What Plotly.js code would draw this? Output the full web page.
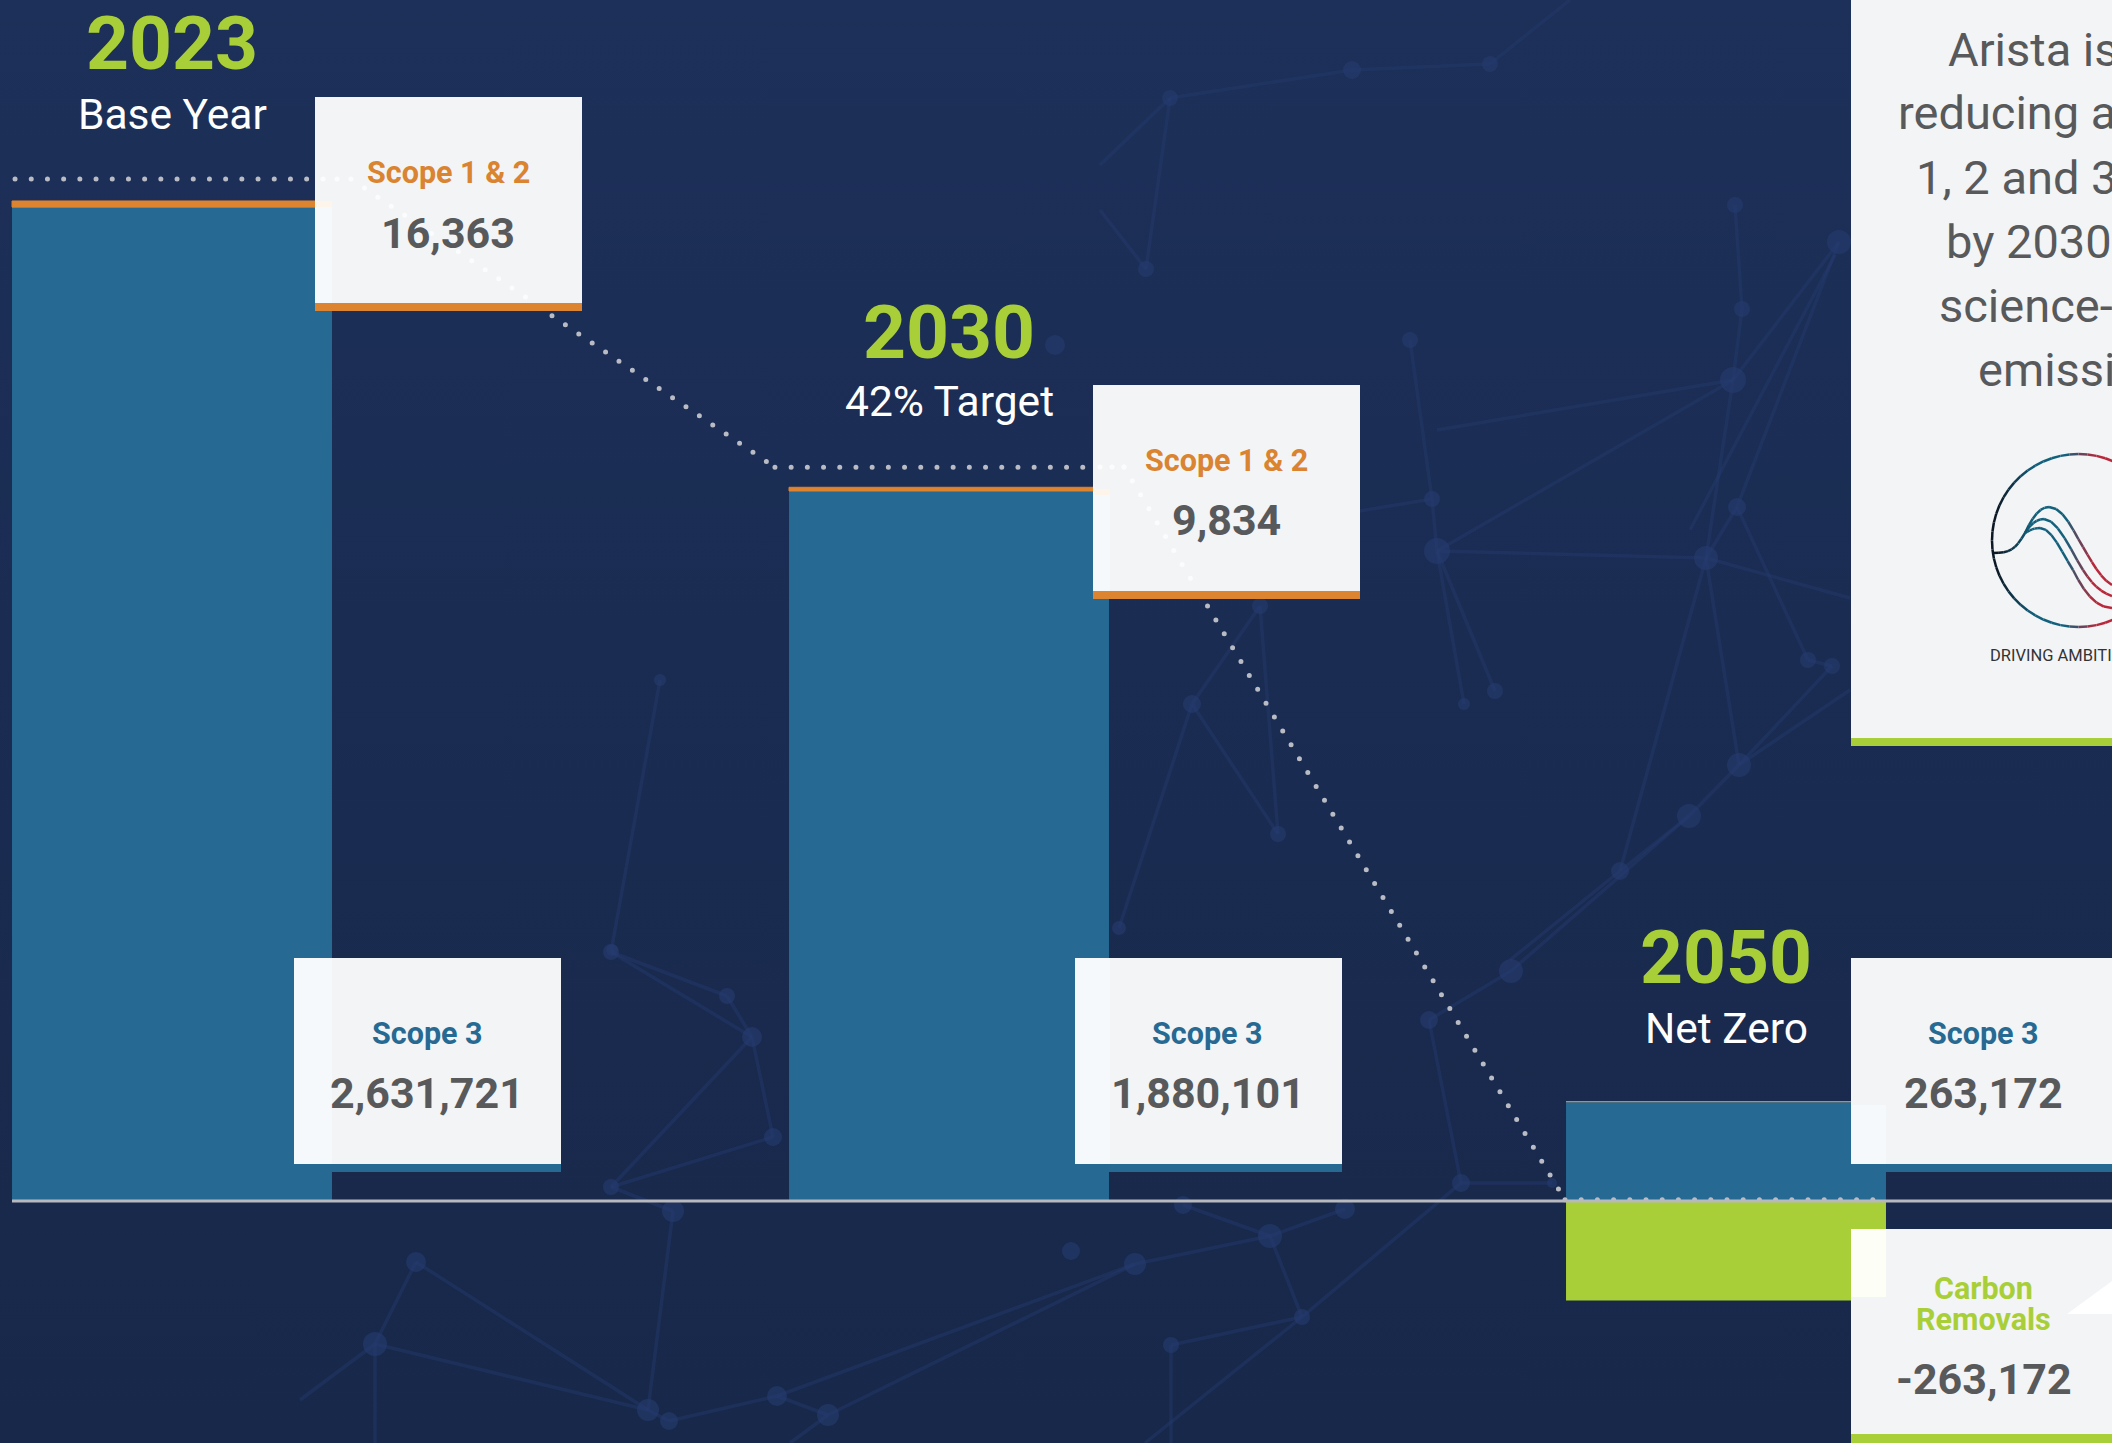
<!DOCTYPE html>
<html>
<head>
<meta charset="utf-8">
<script src="https://cdn.plot.ly/plotly-3.0.1.min.js"></script>
<style>
html,body{margin:0;padding:0;width:2112px;height:1443px;overflow:hidden;background:linear-gradient(180deg,#1d3059 0%,#1a2c52 45%,#18284a 100%);}
#chart{width:2112px;height:1443px;}
</style>
</head>
<body>
<div id="chart"></div>
<script>
// ---- chart data ----
const years = ['2023', '2030', '2050'];
const yearNotes = ['Base Year', '42% Target', 'Net Zero'];
const yearPositions = [0, 1, 2];
const scope3Values = [2631721, 1880101, 263172];
const scope12Values = [16363, 9834, 0];
const removalValues = [0, 0, -263172];
const pathwayX = [-0.202, 0.1943, null, 0.2304, 0.776, null, 0.776, 1.1943, null, 1.2252, 1.7928, null, 1.7928, 2.206];
const pathwayY = [2706000, 2706000, null, 2706000, 1943000, null, 1943000, 1943000, null, 1943000, 3000, null, 3000, 3000];

const W = 2112, H = 1443;
const BLUE = '#266a93', ORANGE = '#dd8430', GREEN = '#a9cf38', CARD = '#f3f4f6', GREY = '#58595b';
const FONT = 'Roboto, sans-serif';
const px = v => v / W, py = v => 1 - v / H;

function rect(x0, y0, x1, y1, fill, layer) {
  return {type: 'rect', xref: 'paper', yref: 'paper', x0: px(x0), x1: px(x1), y0: py(y0), y1: py(y1),
          fillcolor: fill, line: {width: 0}, layer: layer || 'above'};
}
function poly(points, color, width, dash, layer) {
  const d = points.map((p, i) => (i ? 'L' : 'M') + px(p[0]) + ',' + py(p[1])).join(' ');
  return {type: 'path', xref: 'paper', yref: 'paper', path: d,
          line: {color: color, width: width, dash: dash || 'solid'}, layer: layer || 'above'};
}
function dotShape(cx, cy, r, fill) {
  return {type: 'circle', xref: 'paper', yref: 'paper', x0: px(cx - r), x1: px(cx + r), y0: py(cy + r), y1: py(cy - r),
          fillcolor: fill, line: {width: 0}, layer: 'below'};
}

// ---- faint network pattern in the background ----
const NET_LINE = 'rgba(38,60,112,0.42)', NET_NODE = 'rgba(38,60,112,0.6)';
const netNodes = {
  A:[1170,98,8],B:[1352,70,9],C:[1490,64,8],D:[1146,269,8],E:[1410,340,8],F:[1432,499,8],G:[1437,551,13],H:[1733,380,13],
  I:[1735,205,8],J:[1742,309,8],K:[1839,242,12],L:[1737,507,9],M:[1706,558,12],N:[1495,691,8],O:[1192,704,9],P:[1278,834,8],
  Q:[1260,606,8],R:[1808,660,8],S:[1832,666,8],T:[1739,765,12],U:[1689,816,12],V:[1620,871,9],W:[1464,704,6],X:[1119,928,7],
  a:[611,952,8],b:[727,996,8],c:[752,1037,10],d:[773,1137,9],e:[611,1187,8],f:[673,1211,11],g:[416,1262,10],h:[375,1344,12],
  i:[648,1410,11],j:[669,1421,9],k:[777,1396,10],l:[828,1415,11],m:[1135,1264,11],n:[1071,1251,9],o:[1270,1236,12],p:[1345,1209,10],
  q:[1183,1205,9],r:[1461,1183,9],s:[1552,1183,5],t:[1302,1317,8],u:[1171,1345,8],v:[1511,971,12],w:[1429,1020,9],
  y:[660,680,6],z:[1055,345,10],aa:[1065,560,8],ab:[1000,690,8],ac:[612,950,6]
};
const netEdges = ['A-B','B-C','A-D','E-F','F-G','G-H','G-M','H-M','H-K','I-J','J-H','L-M','L-R','M-T','T-U','U-V','T-S','R-S','G-N','G-W','O-P','O-Q','Q-P','O-X','M-V','K-L','a-b','a-c','b-c','c-d','c-e','d-e','e-f','f-i','g-h','h-i','g-i','i-j','j-k','k-l','l-m','m-o','o-p','o-q','m-k','t-u','t-r','r-s','r-w','w-v','t-o','v-U','F-aa','y-a'];
const netExtra = [[[1490,64],[1570,0]],[[1146,269],[1100,210]],[[1170,98],[1100,165]],[[1739,765],[1850,690]],[[1706,558],[1850,598]],[[1620,871],[1510,960]],[[1302,1317],[1145,1443]],[[828,1415],[790,1443]],[[375,1344],[300,1400]],[[375,1344],[375,1443]],[[1171,1345],[1171,1443]],[[1733,380],[1437,430]],[[1835,255],[1690,530]]];
const netShapes = [];
netEdges.forEach(e => {
  const [a, b] = e.split('-');
  netShapes.push(poly([netNodes[a], netNodes[b]], NET_LINE, 3.5, 'solid', 'below'));
});
netExtra.forEach(seg => netShapes.push(poly(seg, NET_LINE, 3.5, 'solid', 'below')));
Object.values(netNodes).forEach(n => netShapes.push(dotShape(n[0], n[1], n[2], NET_NODE)));

// ---- the logo ----
const logoShapes = [];
function mix(a, b, t) {
  const ca = [1, 3, 5].map(i => parseInt(a.substr(i, 2), 16));
  const cb = [1, 3, 5].map(i => parseInt(b.substr(i, 2), 16));
  return 'rgb(' + ca.map((v, i) => Math.round(v + (cb[i] - v) * t)).join(',') + ')';
}
function logoColor(x) {
  if (x < 2030) return mix('#0b1724', '#12607c', Math.max(0, (x - 1995) / 35));
  if (x < 2062) return '#12607c';
  return mix('#12607c', '#b8283a', Math.min(1, (x - 2062) / 30));
}
function addSegments(points) {
  for (let i = 0; i + 1 < points.length; i++) {
    logoShapes.push(poly([points[i], points[i + 1]], logoColor(points[i][0]), 2.5));
  }
}
function bez(p0, p1, p2, p3, n) {
  const out = [];
  for (let i = 0; i <= n; i++) {
    const t = i / n, u = 1 - t;
    out.push([u*u*u*p0[0] + 3*u*u*t*p1[0] + 3*u*t*t*p2[0] + t*t*t*p3[0],
              u*u*u*p0[1] + 3*u*u*t*p1[1] + 3*u*t*t*p2[1] + t*t*t*p3[1]]);
  }
  return out;
}
[[-1], [1]].forEach(s => {
  const pts = [];
  for (let a = 180; a >= 58; a -= 6) {
    const r = a * Math.PI / 180;
    pts.push([2078.5 + 86.5 * Math.cos(r), 540.5 - s[0] * 86.5 * Math.sin(r)]);
  }
  addSegments(pts);
});
addSegments(bez([1993,553],[2010,553],[2015,550],[2025,533],8));
const curves = [
  [[[2025,533],[2033,516],[2040,507],[2049,507]], [[2049,507],[2064,507],[2074,533],[2083,547]], [[2083,547],[2092,562],[2100,578],[2112,585]]],
  [[[2025,533],[2030,525],[2036,519],[2044,519]], [[2044,519],[2058,519],[2072,553],[2083,570]], [[2083,570],[2092,584],[2100,592],[2112,596]]],
  [[[2025,533],[2030,530],[2034,528],[2040,528]], [[2040,528],[2052,528],[2062,553],[2073,570]], [[2073,570],[2083,590],[2095,608],[2112,608]]]
];
curves.forEach(c => c.forEach(b => addSegments(bez(b[0], b[1], b[2], b[3], 6))));

// ---- cards ----
const DOT_ON_CARD = '#fbfcfd';
const shapes = netShapes.concat([
  {type: 'line', xref: 'paper', yref: 'y', x0: px(12), x1: 1, y0: 0, y1: 0, line: {color: '#b8b9bd', width: 3}, layer: 'above'},
  rect(315, 97, 582, 303, CARD), rect(315, 303, 582, 311, ORANGE),
  rect(315, 207, 332, 303, '#f6f9fc'), rect(315, 201, 332, 207, '#fdf4ea'),
  rect(1093, 385, 1360, 591, CARD), rect(1093, 591, 1360, 599, ORANGE),
  rect(1093, 495, 1110, 591, '#f6f9fc'), rect(1093, 489, 1110, 495, '#fdf4ea'),
  rect(294, 958, 561, 1164, CARD), rect(294, 1164, 561, 1172, BLUE), rect(294, 958, 332, 1164, '#f6f9fc'),
  rect(1075, 958, 1342, 1164, CARD), rect(1075, 1164, 1342, 1172, BLUE), rect(1075, 958, 1110, 1164, '#f6f9fc'),
  rect(1851, 958, 2112, 1164, CARD), rect(1851, 1164, 2112, 1172, BLUE), rect(1851, 1105, 1886, 1164, '#f6f9fc'),
  rect(1851, 1229, 2112, 1434, CARD), rect(1851, 1434, 2112, 1443, GREEN), rect(1851, 1229, 1886, 1297, '#fdfef5'),
  Object.assign(poly([[2067,1314],[2112,1281],[2112,1314]], '#ffffff', 0), {fillcolor: '#ffffff'}),
  rect(1851, 0, 2112, 738, CARD), rect(1851, 738, 2112, 746, GREEN),
  poly([[323,179],[351,179]], DOT_ON_CARD, 5, '0px,14px'),
  poly([[351,179],[527,298]], DOT_ON_CARD, 5, '0px,16.2px'),
  poly([[1100,467],[1125,467]], DOT_ON_CARD, 5, '0px,12px'),
  poly([[1124,467],[1192,581]], DOT_ON_CARD, 5, '0px,16.2px')
]).concat(logoShapes);
shapes.forEach(s => { if (s.fillcolor === '#ffffff' && s.type === 'path') s.path += ' Z'; });

// ---- text ----
function label(text, x, y, size, color, weight, anchor) {
  return {text: String(text), xref: 'paper', yref: 'paper', x: px(x), y: py(y), showarrow: false,
          xanchor: anchor || 'center', yanchor: 'middle', align: anchor || 'center',
          font: {family: FONT, size: size, color: color, weight: weight || 400}};
}
const fmt = v => v.toLocaleString('en-US');
const yearX = [172, 949, 1726], yearY = [43, 332, 957], noteY = [114, 401, 1028];
const annotations = [];
years.forEach((y, i) => {
  annotations.push(label(y, yearX[i], yearY[i], 75, GREEN, 700));
  annotations.push(label(yearNotes[i], yearX[i], noteY[i], 42.5, '#ffffff', 400));
});
const s12X = [448, 1226], s12Y = [172.5, 460], s12V = [232.5, 520.5];
[0, 1].forEach(i => {
  annotations.push(label('Scope 1 & 2', s12X[i], s12Y[i], 30.5, '#da8330', 700));
  annotations.push(label(fmt(scope12Values[i]), s12X[i], s12V[i], 43, GREY, 700));
});
const s3X = [427, 1207.5, 1983.5];
[0, 1, 2].forEach(i => {
  annotations.push(label('Scope 3', s3X[i], 1033, 30.5, BLUE, 700));
  annotations.push(label(fmt(scope3Values[i]), s3X[i], 1093, 43, GREY, 700));
});
annotations.push(label('Carbon', 1983.5, 1288, 30.5, GREEN, 700));
annotations.push(label('Removals', 1983.5, 1319, 30.5, GREEN, 700));
annotations.push(label(fmt(removalValues[2]), 1984, 1379, 43, GREY, 700));
const panelLines = ['Arista is', 'reducing a', '1, 2 and 3', 'by 2030', 'science-', 'emissi'];
const panelX = [1945.5, 1895.5, 1914, 1944, 1936.5, 1975.5], panelY = [49, 113, 178, 241, 305, 370];
panelLines.forEach((t, i) => annotations.push(label(t, panelX[i], panelY[i], 47, GREY, 400, 'left')));
annotations.push(label('DRIVING AMBITI', 1988, 656, 16.5, '#333335', 400, 'left'));

// ---- traces ----
const barWidth = 0.4118;
const traces = [
  {type: 'bar', name: 'Scope 3', x: yearPositions, y: scope3Values, width: barWidth, marker: {color: BLUE, line: {width: 0}}},
  {type: 'bar', name: 'Scope 1 & 2', x: yearPositions, y: scope12Values, width: barWidth, marker: {color: ORANGE, line: {color: ORANGE, width: 1}}},
  {type: 'bar', name: 'Carbon Removals', x: yearPositions, y: removalValues, width: barWidth, marker: {color: GREEN, line: {width: 0}}},
  {type: 'scatter', mode: 'lines', name: 'Pathway', x: pathwayX, y: pathwayY, connectgaps: false, line: {color: '#b9bcc4', width: 5, dash: '0px,16.2px'}}
];

const unitsPerPx = 2648;
const layout = {
  width: W, height: H, margin: {l: 0, r: 0, t: 0, b: 0},
  paper_bgcolor: 'rgba(0,0,0,0)', plot_bgcolor: 'rgba(0,0,0,0)',
  barmode: 'relative', showlegend: false, hovermode: false,
  xaxis: {type: 'linear', range: [(0 - 172) / 777, (W - 172) / 777], visible: false, fixedrange: true},
  yaxis: {type: 'linear', range: [(1201 - H) * unitsPerPx, 1201 * unitsPerPx], visible: false, fixedrange: true},
  shapes: shapes, annotations: annotations, font: {family: FONT}
};

Plotly.newPlot('chart', traces, layout, {displayModeBar: false, staticPlot: true}).then(() => {
  document.querySelectorAll('#chart path').forEach(p => {
    if ((p.style.strokeDasharray || '').indexOf('0px') === 0) p.style.strokeLinecap = 'round';
  });
});
</script>
</body>
</html>
